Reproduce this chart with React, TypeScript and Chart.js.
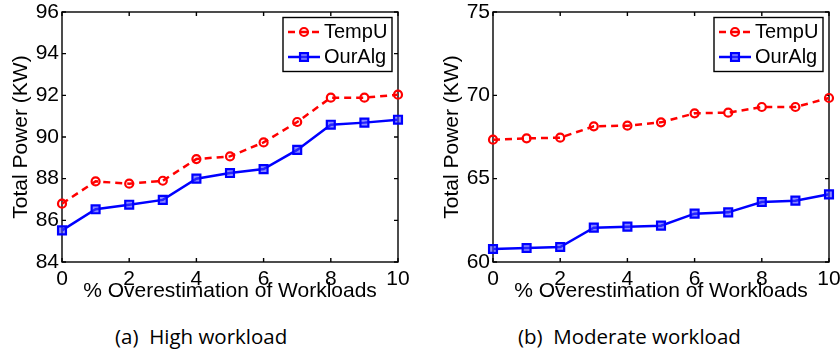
import React, { useEffect, useRef } from "react";
import { Chart, registerables } from "chart.js";

Chart.register(...registerables);

// ---- data ----
const workloads = [0, 1, 2, 3, 4, 5, 6, 7, 8, 9, 10];
const highTempU = [86.8, 87.87, 87.76, 87.9, 88.94, 89.07, 89.74, 90.72, 91.89, 91.89, 92.03];
const highOurAlg = [85.52, 86.53, 86.75, 86.98, 88.0, 88.27, 88.46, 89.38, 90.59, 90.69, 90.83];
const modTempU = [67.34, 67.42, 67.46, 68.14, 68.18, 68.38, 68.92, 68.96, 69.3, 69.3, 69.84];
const modOurAlg = [60.78, 60.84, 60.9, 62.06, 62.12, 62.18, 62.9, 62.98, 63.6, 63.68, 64.06];
const highYTicks = [84, 86, 88, 90, 92, 94, 96];
const modYTicks = [60, 65, 70, 75];
const xTicks = [0, 2, 4, 6, 8, 10];
const seriesLabels = ["TempU", "OurAlg"];
const xTitle = "% Overestimation of Workloads";
const yTitle = "Total Power (KW)";
const captions = ["(a)  High workload", "(b)  Moderate workload"];

const FONT = "'Liberation Sans', Arial, Helvetica, sans-serif";

const framePlugin = {
  id: "frame",
  beforeDatasetsDraw(chart: any) {
    const { ctx, chartArea: a, scales } = chart;
    ctx.save();
    ctx.strokeStyle = "#000";
    ctx.lineWidth = 1.4;
    ctx.strokeRect(a.left, a.top, a.right - a.left, a.bottom - a.top);
    const tl = 4;
    ctx.beginPath();
    scales.x.ticks.forEach((t: any) => {
      const px = scales.x.getPixelForValue(t.value);
      ctx.moveTo(px, a.bottom);
      ctx.lineTo(px, a.bottom - tl);
      ctx.moveTo(px, a.top);
      ctx.lineTo(px, a.top + tl);
    });
    scales.y.ticks.forEach((t: any) => {
      const py = scales.y.getPixelForValue(t.value);
      ctx.moveTo(a.left, py);
      ctx.lineTo(a.left + tl, py);
      ctx.moveTo(a.right, py);
      ctx.lineTo(a.right - tl, py);
    });
    ctx.stroke();
    ctx.restore();
  },
};

const legendPlugin = {
  id: "boxLegend",
  afterDatasetsDraw(chart: any) {
    const { ctx, chartArea: a } = chart;
    const w = 109;
    const h = 54;
    const left = a.right - 6 - w;
    const top = a.top + 5.5;
    ctx.save();
    ctx.fillStyle = "#fff";
    ctx.fillRect(left, top, w, h);
    ctx.strokeStyle = "#000";
    ctx.lineWidth = 1.4;
    ctx.strokeRect(left, top, w, h);
    chart.data.datasets.forEach((ds: any, i: number) => {
      const y = top + 14.5 + i * 25;
      const x0 = left + 5;
      const x1 = left + 37;
      const xm = (x0 + x1) / 2;
      ctx.save();
      ctx.strokeStyle = ds.borderColor;
      ctx.lineWidth = ds.borderWidth;
      ctx.setLineDash(ds.borderDash || []);
      ctx.beginPath();
      ctx.moveTo(x0, y);
      ctx.lineTo(x1, y);
      ctx.stroke();
      ctx.setLineDash([]);
      ctx.lineWidth = ds.pointBorderWidth;
      ctx.strokeStyle = ds.pointBorderColor;
      ctx.fillStyle = ds.pointBackgroundColor;
      ctx.beginPath();
      if (ds.pointStyle === "rect") {
        const s = Math.SQRT1_2 * ds.pointRadius;
        ctx.rect(xm - s, y - s, 2 * s, 2 * s);
      } else {
        ctx.arc(xm, y, ds.pointRadius, 0, Math.PI * 2);
      }
      ctx.fill();
      ctx.stroke();
      ctx.restore();
      ctx.fillStyle = "#000";
      ctx.font = `20px ${FONT}`;
      ctx.textBaseline = "middle";
      ctx.textAlign = "left";
      ctx.fillText(ds.label, left + 41, y);
    });
    ctx.restore();
  },
};

function makeConfig(tempU: number[], ourAlg: number[], yTicks: number[], padRight: number) {
  const tickFont = { family: FONT, size: 21 };
  const titleFont = { family: FONT, size: 21 };
  return {
    type: "line",
    data: {
      datasets: [
        {
          label: seriesLabels[0],
          data: workloads.map((x, i) => ({ x, y: tempU[i] })),
          borderColor: "#ff0000",
          borderWidth: 2.5,
          borderDash: [7, 5],
          pointStyle: "circle",
          pointRadius: 4,
          pointBorderWidth: 2.2,
          pointBorderColor: "#ff0000",
          pointBackgroundColor: "rgba(255,255,255,0)",
          fill: false,
          tension: 0,
          clip: false,
        },
        {
          label: seriesLabels[1],
          data: workloads.map((x, i) => ({ x, y: ourAlg[i] })),
          borderColor: "#0000ff",
          borderWidth: 2.5,
          pointStyle: "rect",
          pointRadius: 5.6,
          pointBorderWidth: 2.2,
          pointBorderColor: "#0000ff",
          pointBackgroundColor: "rgba(60,60,255,0.6)",
          fill: false,
          tension: 0,
          clip: false,
        },
      ],
    },
    options: {
      responsive: false,
      maintainAspectRatio: false,
      animation: false,
      devicePixelRatio: 1,
      layout: { padding: { left: 0, right: padRight, top: 12, bottom: 0 } },
      plugins: { legend: { display: false }, tooltip: { enabled: false } },
      scales: {
        x: {
          type: "linear",
          min: xTicks[0],
          max: xTicks[xTicks.length - 1],
          afterBuildTicks: (s: any) => {
            s.ticks = xTicks.map((v) => ({ value: v }));
          },
          afterFit: (s: any) => {
            s.height = 45;
            s.paddingLeft = 0;
            s.paddingRight = 0;
          },
          grid: { display: false, drawTicks: false, tickLength: 0 },
          border: { display: false },
          ticks: { font: tickFont, color: "#000", padding: 5, maxRotation: 0, autoSkip: false },
          title: { display: true, text: xTitle, font: titleFont, color: "#000", padding: { top: 0, bottom: 3 } },
        },
        y: {
          type: "linear",
          min: yTicks[0],
          max: yTicks[yTicks.length - 1],
          afterBuildTicks: (s: any) => {
            s.ticks = yTicks.map((v) => ({ value: v }));
          },
          afterFit: (s: any) => {
            s.width = 62;
            s.paddingTop = 0;
            s.paddingBottom = 0;
          },
          grid: { display: false, drawTicks: false, tickLength: 0 },
          border: { display: false },
          ticks: { font: tickFont, color: "#000", padding: 3, autoSkip: false },
          title: { display: true, text: yTitle, font: titleFont, color: "#000", padding: { top: 9, bottom: 0 } },
        },
      },
    },
    plugins: [framePlugin, legendPlugin],
  };
}

function Panel(props: { tempU: number[]; ourAlg: number[]; yTicks: number[]; left: number; width: number; padRight: number }) {
  const ref = useRef<HTMLCanvasElement | null>(null);
  useEffect(() => {
    if (!ref.current) return;
    const chart = new Chart(ref.current, makeConfig(props.tempU, props.ourAlg, props.yTicks, props.padRight) as any);
    return () => chart.destroy();
  }, []);
  return (
    <canvas
      ref={ref}
      width={props.width}
      height={307}
      style={{ position: "absolute", left: props.left, top: 0, width: props.width, height: 307, display: "block" }}
    />
  );
}

export default function App() {
  const capStyle: React.CSSProperties = {
    position: "absolute",
    top: 324,
    fontFamily: "'Open Sans', Lato, sans-serif",
    fontSize: 20.5,
    lineHeight: "24px",
    color: "#000",
    whiteSpace: "pre",
  };
  return (
    <div style={{ position: "absolute", left: 0, top: 0, width: 840, height: 355, background: "#fff", overflow: "hidden" }}>
      <Panel tempU={highTempU} ourAlg={highOurAlg} yTicks={highYTicks} left={0} width={420} padRight={22} />
      <Panel tempU={modTempU} ourAlg={modOurAlg} yTicks={modYTicks} left={431} width={409} padRight={11} />
      <div style={{ ...capStyle, left: 115 }}>{captions[0]}</div>
      <div style={{ ...capStyle, left: 518 }}>{captions[1]}</div>
    </div>
  );
}
